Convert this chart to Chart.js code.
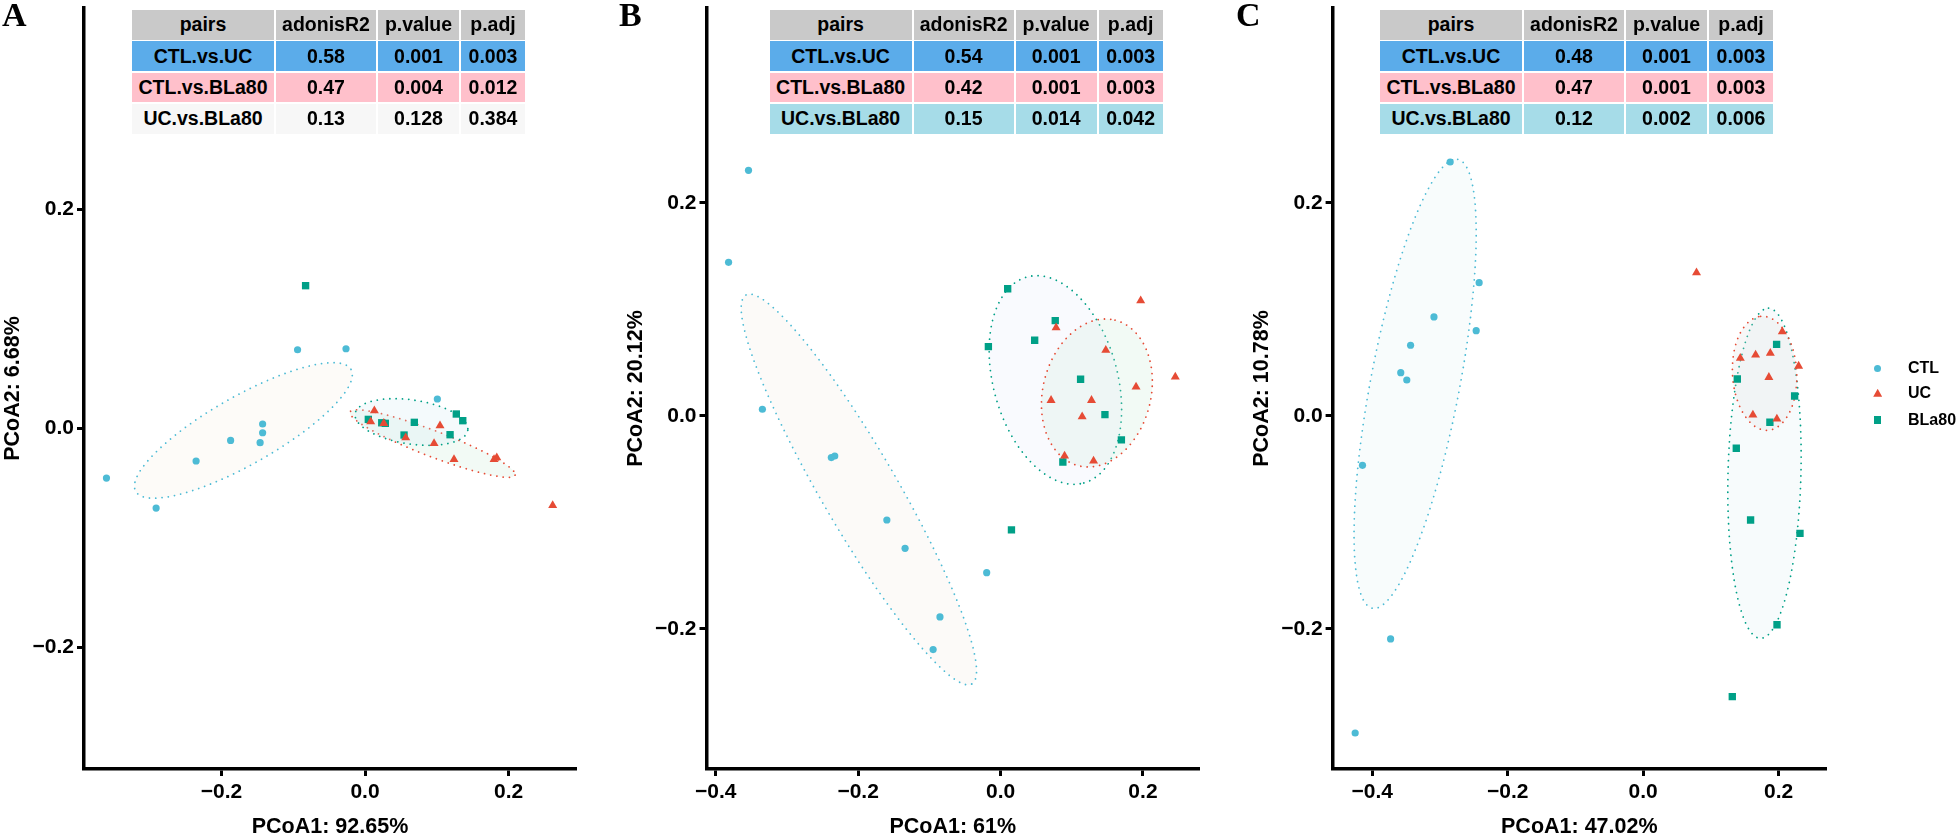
<!DOCTYPE html>
<html><head><meta charset="utf-8">
<script src="https://cdn.jsdelivr.net/npm/chart.js@4.4.0/dist/chart.umd.min.js"></script>
<style>
html,body{margin:0;padding:0;background:#fff;}
body{width:1958px;height:836px;overflow:hidden;position:relative;font-family:"Liberation Sans",Arial,sans-serif;}
.panel{position:absolute;top:0;height:836px;}
.letter{position:absolute;top:-2.5px;font-family:"Liberation Serif","Times New Roman",serif;font-weight:bold;font-size:34px;line-height:34px;}
.cell{position:absolute;display:flex;align-items:center;justify-content:center;font-weight:bold;font-size:19.5px;color:#000;white-space:nowrap;}
.legtext{position:absolute;font-weight:bold;font-size:16px;line-height:16px;color:#000;}
.mk{position:absolute;}
</style></head><body>
<div class="panel" style="left:0;width:600px"><canvas id="cA" width="600" height="836"></canvas></div>
<div class="panel" style="left:600px;width:620px"><canvas id="cB" width="620" height="836"></canvas></div>
<div class="panel" style="left:1220px;width:738px"><canvas id="cC" width="738" height="836"></canvas></div>
<div class="letter" style="left:2px">A</div>
<div class="letter" style="left:619px">B</div>
<div class="letter" style="left:1236px">C</div>
<div id="overlay"></div>
<script>
// ---------- data ----------
const groups = ['CTL', 'UC', 'BLa80'];

// Panel A
const A_CTL_x = [-0.094, -0.0265, 0.1008, -0.1427, -0.1427, -0.1873, -0.1462, -0.2354, -0.3603, -0.2911];
const A_CTL_y = [0.0715, 0.0724, 0.0265, 0.0037, -0.0043, -0.0113, -0.0134, -0.0301, -0.0457, -0.0731];
const A_UC_x = [0.013, 0.0079, 0.0262, 0.1045, 0.0567, 0.0962, 0.124, 0.1798, 0.1836, 0.2615];
const A_UC_y = [0.0158, 0.0058, 0.0043, 0.0021, -0.0089, -0.014, -0.0286, -0.0286, -0.0271, -0.0706];
const A_BL_x = [-0.0828, 0.0046, 0.0233, 0.0283, 0.0687, 0.0544, 0.1272, 0.1362, 0.1185];
const A_BL_y = [0.130, 0.0079, 0.0048, 0.0043, 0.0052, -0.0064, 0.0128, 0.0067, -0.0061];

// Panel B
const B_CTL_x = [-0.354, -0.382, -0.3345, -0.2377, -0.2329, -0.1597, -0.1341, -0.0195, -0.0851, -0.0947];
const B_CTL_y = [0.2307, 0.1443, 0.0063, -0.0391, -0.0376, -0.0977, -0.1243, -0.1471, -0.1887, -0.2194];
const B_UC_x = [0.1968, 0.078, 0.1478, 0.2454, 0.1903, 0.0709, 0.1277, 0.1146, 0.0899, 0.1306];
const B_UC_y = [0.1083, 0.0829, 0.0617, 0.0366, 0.0272, 0.0147, 0.0147, -0.0006, -0.0376, -0.0423];
const B_BL_x = [0.01, 0.0768, 0.0479, -0.0171, 0.1124, 0.1466, 0.1697, 0.0875, 0.0153];
const B_BL_y = [0.1195, 0.0895, 0.0711, 0.0651, 0.0345, 0.0012, -0.0225, -0.0432, -0.107];

// Panel C
const C_CTL_x = [-0.2849, -0.2421, -0.3088, -0.2465, -0.3433, -0.3578, -0.3489, -0.4143, -0.3728, -0.4251];
const C_CTL_y = [0.2385, 0.1252, 0.093, 0.0801, 0.0664, 0.0407, 0.0338, -0.0463, -0.2094, -0.2977];
const C_UC_x = [0.0787, 0.2053, 0.1876, 0.1659, 0.1433, 0.2294, 0.1855, 0.1619, 0.1973];
const C_UC_y = [0.1346, 0.0792, 0.0589, 0.0573, 0.0542, 0.0469, 0.0363, 0.0009, -0.0028];
const C_BL_x = [0.1969, 0.1389, 0.2235, 0.187, 0.1374, 0.1585, 0.2314, 0.1975, 0.1315];
const C_BL_y = [0.0673, 0.0347, 0.0188, -0.0059, -0.0303, -0.0977, -0.1102, -0.196, -0.2636];

// Confidence ellipses: [centerX, centerY, axis1X, axis1Y, axis2X, axis2Y] in data units
const A_ELL_CTL = [-0.1695, -0.0022, 0.150, 0.0557, 0.0234, -0.027];
const A_ELL_UC = [0.0941, -0.0142, 0.115, -0.0288, -0.0065, -0.011];
const A_ELL_BL = [0.0647, 0.0055, 0.0785, -0.0076, -0.0045, -0.0199];
const B_ELL_CTL = [-0.199, -0.069, 0.1587, -0.1826, 0.0462, 0.0179];
const B_ELL_BL = [0.077, 0.0338, 0.04, -0.0967, 0.084, 0.0156];
const B_ELL_UC = [0.1353, 0.0216, 0.0255, 0.0684, 0.0736, -0.0123];
const C_ELL_CTL = [-0.3366, 0.0302, 0.0629, 0.2108, 0.0646, -0.0076];
const C_ELL_BL = [0.179, -0.0538, 0.006, 0.155, 0.0538, -0.0009];
const C_ELL_UC = [0.1792, 0.0401, -0.0059, 0.0535, 0.0472, 0.003];

// Axis ticks and titles
const A_xTicks = [-0.2, 0, 0.2];
const BC_xTicks = [-0.4, -0.2, 0, 0.2];
const yTicks = [-0.2, 0, 0.2];
const A_xTitle = 'PCoA1: 92.65%', A_yTitle = 'PCoA2: 6.68%';
const B_xTitle = 'PCoA1: 61%', B_yTitle = 'PCoA2: 20.12%';
const C_xTitle = 'PCoA1: 47.02%', C_yTitle = 'PCoA2: 10.78%';

// Tables
const tableHeader = ['pairs', 'adonisR2', 'p.value', 'p.adj'];
const pairNames = ['CTL.vs.UC', 'CTL.vs.BLa80', 'UC.vs.BLa80'];
const A_R2 = ['0.58', '0.47', '0.13'], A_p = ['0.001', '0.004', '0.128'], A_padj = ['0.003', '0.012', '0.384'];
const B_R2 = ['0.54', '0.42', '0.15'], B_p = ['0.001', '0.001', '0.014'], B_padj = ['0.003', '0.003', '0.042'];
const C_R2 = ['0.48', '0.47', '0.12'], C_p = ['0.001', '0.001', '0.002'], C_padj = ['0.003', '0.003', '0.006'];

// ---------- styles ----------
const FONT = '"Liberation Sans", Arial, sans-serif';
const COLORS = {CTL: '#4DBBD5', UC: '#E64B35', BLa80: '#00A087'};
const PSTYLE = {CTL: 'circle', UC: 'triangle', BLa80: 'rect'};
const PRAD = {CTL: 3.6, UC: 5.2, BLa80: 5.2};

function fmt(v) {
  if (Math.abs(v) < 1e-9) return '0.0';
  return (v < 0 ? '\u2212' : '') + Math.abs(v).toFixed(1);
}

function ellipsePlugin(items) {
  return {
    id: 'ellipses',
    beforeDatasetsDraw(chart) {
      const ctx = chart.ctx, xs = chart.scales.x, ys = chart.scales.y;
      items.forEach(e => {
        const p = e.p;
        ctx.save();
        ctx.beginPath();
        const N = 200;
        for (let k = 0; k <= N; k++) {
          const t = k / N * 2 * Math.PI;
          const vx = p[0] + p[2] * Math.cos(t) + p[4] * Math.sin(t);
          const vy = p[1] + p[3] * Math.cos(t) + p[5] * Math.sin(t);
          const px = xs.getPixelForValue(vx), py = ys.getPixelForValue(vy);
          if (k === 0) ctx.moveTo(px, py); else ctx.lineTo(px, py);
        }
        ctx.closePath();
        ctx.fillStyle = e.fill;
        ctx.fill();
        ctx.setLineDash([0.01, 6.3]);
        ctx.lineCap = 'round';
        ctx.lineWidth = 1.8;
        ctx.strokeStyle = e.stroke;
        ctx.stroke();
        ctx.restore();
      });
    }
  };
}

function titlePlugin(xt, yt) {
  return {
    id: 'axisTitles',
    afterDraw(chart) {
      const ctx = chart.ctx, ca = chart.chartArea;
      ctx.save();
      ctx.fillStyle = '#000';
      ctx.font = 'bold 21.5px ' + FONT;
      ctx.textAlign = 'center';
      ctx.textBaseline = 'alphabetic';
      ctx.fillText(xt, (ca.left + ca.right) / 2, 833);
      ctx.translate(ca.left - 65, (ca.top + ca.bottom) / 2);
      ctx.rotate(-Math.PI / 2);
      ctx.fillText(yt, 0, 0);
      ctx.restore();
    }
  };
}

function makePanel(cfg) {
  const canvas = document.getElementById(cfg.id);
  const W = canvas.width;
  const datasets = cfg.series.map(s => ({
    label: s.g,
    data: s.x.map((v, i) => ({x: v, y: s.y[i]})),
    pointStyle: PSTYLE[s.g],
    pointRadius: PRAD[s.g],
    pointHoverRadius: PRAD[s.g],
    pointBackgroundColor: COLORS[s.g],
    pointBorderColor: COLORS[s.g],
    pointBorderWidth: 0,
    showLine: false
  }));
  const axisCommon = {
    type: 'linear',
    grid: {display: true, drawOnChartArea: false, drawTicks: true, tickLength: 7, tickWidth: 3, tickColor: '#000'},
    border: {display: true, color: '#000', width: 3.5},
  };
  new Chart(canvas, {
    type: 'scatter',
    data: {datasets},
    options: {
      responsive: false, animation: false, devicePixelRatio: 1,
      layout: {padding: {left: 0, right: W - cfg.plotRight, top: 8, bottom: 0}},
      plugins: {legend: {display: false}, tooltip: {enabled: false}},
      scales: {
        x: Object.assign({}, axisCommon, {
          min: cfg.xr[0], max: cfg.xr[1],
          afterBuildTicks: s => { s.ticks = cfg.xTicks.map(v => ({value: v})); },
          afterFit: s => { s.height = 836 - 769; s.paddingLeft = 0; s.paddingRight = 0; },
          ticks: {color: '#000', font: {family: FONT, size: 21, weight: 'bold'}, padding: 4, maxRotation: 0, autoSkip: false, callback: v => fmt(v)}
        }),
        y: Object.assign({}, axisCommon, {
          min: cfg.yr[0], max: cfg.yr[1],
          afterBuildTicks: s => { s.ticks = yTicks.map(v => ({value: v})); },
          afterFit: s => { s.width = cfg.plotLeft; s.paddingTop = 0; s.paddingBottom = 0; },
          ticks: {color: '#000', font: {family: FONT, size: 21, weight: 'bold'}, padding: 3, autoSkip: false, callback: v => fmt(v)}
        })
      }
    },
    plugins: [ellipsePlugin(cfg.ellipses), titlePlugin(cfg.xTitle, cfg.yTitle)]
  });
}

makePanel({
  id: 'cA', plotLeft: 84, plotRight: 576,
  xr: [-0.3916, 0.294], yr: [-0.3114, 0.3836], xTicks: A_xTicks,
  series: [{g: 'CTL', x: A_CTL_x, y: A_CTL_y}, {g: 'UC', x: A_UC_x, y: A_UC_y}, {g: 'BLa80', x: A_BL_x, y: A_BL_y}],
  ellipses: [
    {p: A_ELL_CTL, fill: 'rgba(240,226,205,0.15)', stroke: COLORS.CTL},
    {p: A_ELL_UC, fill: 'rgba(190,230,205,0.2)', stroke: COLORS.UC},
    {p: A_ELL_BL, fill: 'rgba(205,230,240,0.22)', stroke: COLORS.BLa80}
  ],
  xTitle: A_xTitle, yTitle: A_yTitle
});
makePanel({
  id: 'cB', plotLeft: 106.5, plotRight: 599,
  xr: [-0.413, 0.2787], yr: [-0.3315, 0.3831], xTicks: BC_xTicks,
  series: [{g: 'CTL', x: B_CTL_x, y: B_CTL_y}, {g: 'UC', x: B_UC_x, y: B_UC_y}, {g: 'BLa80', x: B_BL_x, y: B_BL_y}],
  ellipses: [
    {p: B_ELL_CTL, fill: 'rgba(240,228,215,0.18)', stroke: COLORS.CTL},
    {p: B_ELL_BL, fill: 'rgba(225,232,250,0.2)', stroke: COLORS.BLa80},
    {p: B_ELL_UC, fill: 'rgba(195,232,210,0.22)', stroke: COLORS.UC}
  ],
  xTitle: B_xTitle, yTitle: B_yTitle
});
makePanel({
  id: 'cC', plotLeft: 112.6, plotRight: 606,
  xr: [-0.4584, 0.2698], yr: [-0.3315, 0.3831], xTicks: BC_xTicks,
  series: [{g: 'CTL', x: C_CTL_x, y: C_CTL_y}, {g: 'UC', x: C_UC_x, y: C_UC_y}, {g: 'BLa80', x: C_BL_x, y: C_BL_y}],
  ellipses: [
    {p: C_ELL_CTL, fill: 'rgba(215,240,240,0.18)', stroke: COLORS.CTL},
    {p: C_ELL_BL, fill: 'rgba(215,235,242,0.2)', stroke: COLORS.BLa80},
    {p: C_ELL_UC, fill: 'rgba(220,220,220,0.22)', stroke: COLORS.UC}
  ],
  xTitle: C_xTitle, yTitle: C_yTitle
});

// ---------- tables ----------
const overlay = document.getElementById('overlay');
const colW = [142, 100, 81, 64];
const GAP = 2;
const ROW_TOP = 10, ROW_H = 29.8, ROW_PITCH = 31.3;
const ROW_BG = ['#C9C9C9', '#5BACEA', '#FFC0CB'];
function makeTable(left, r2, p, padj, lastBg) {
  const rows = [tableHeader].concat(pairNames.map((n, i) => [n, r2[i], p[i], padj[i]]));
  rows.forEach((row, ri) => {
    let x = left;
    row.forEach((txt, ci) => {
      const d = document.createElement('div');
      d.className = 'cell';
      d.style.left = x + 'px';
      d.style.top = (ROW_TOP + ri * ROW_PITCH) + 'px';
      d.style.width = colW[ci] + 'px';
      d.style.height = ROW_H + 'px';
      d.style.background = ri < 3 ? ROW_BG[ri] : lastBg;
      d.textContent = txt;
      overlay.appendChild(d);
      x += colW[ci] + GAP;
    });
  });
}
makeTable(132, A_R2, A_p, A_padj, '#F7F7F7');
makeTable(769.6, B_R2, B_p, B_padj, '#A6DCE8');
makeTable(1380, C_R2, C_p, C_padj, '#A6DCE8');

// ---------- legend ----------
const legY = [368.3, 393.3, 420];
groups.forEach((g, i) => {
  const m = document.createElement('div');
  m.className = 'mk';
  const cx = 1877.7, cy = legY[i];
  if (g === 'CTL') {
    Object.assign(m.style, {left: (cx - 3.6) + 'px', top: (cy - 3.6) + 'px', width: '7.2px', height: '7.2px', borderRadius: '50%', background: COLORS[g]});
  } else if (g === 'UC') {
    Object.assign(m.style, {left: (cx - 4.5) + 'px', top: (cy - 4.5) + 'px', width: '9px', height: '8px', background: COLORS[g], clipPath: 'polygon(50% 0, 100% 100%, 0 100%)'});
  } else {
    Object.assign(m.style, {left: (cx - 3.6) + 'px', top: (cy - 3.6) + 'px', width: '7.2px', height: '7.2px', background: COLORS[g]});
  }
  overlay.appendChild(m);
  const t = document.createElement('div');
  t.className = 'legtext';
  t.style.left = '1908px';
  t.style.top = (cy - 8) + 'px';
  t.textContent = g;
  overlay.appendChild(t);
});
</script>
</body></html>
